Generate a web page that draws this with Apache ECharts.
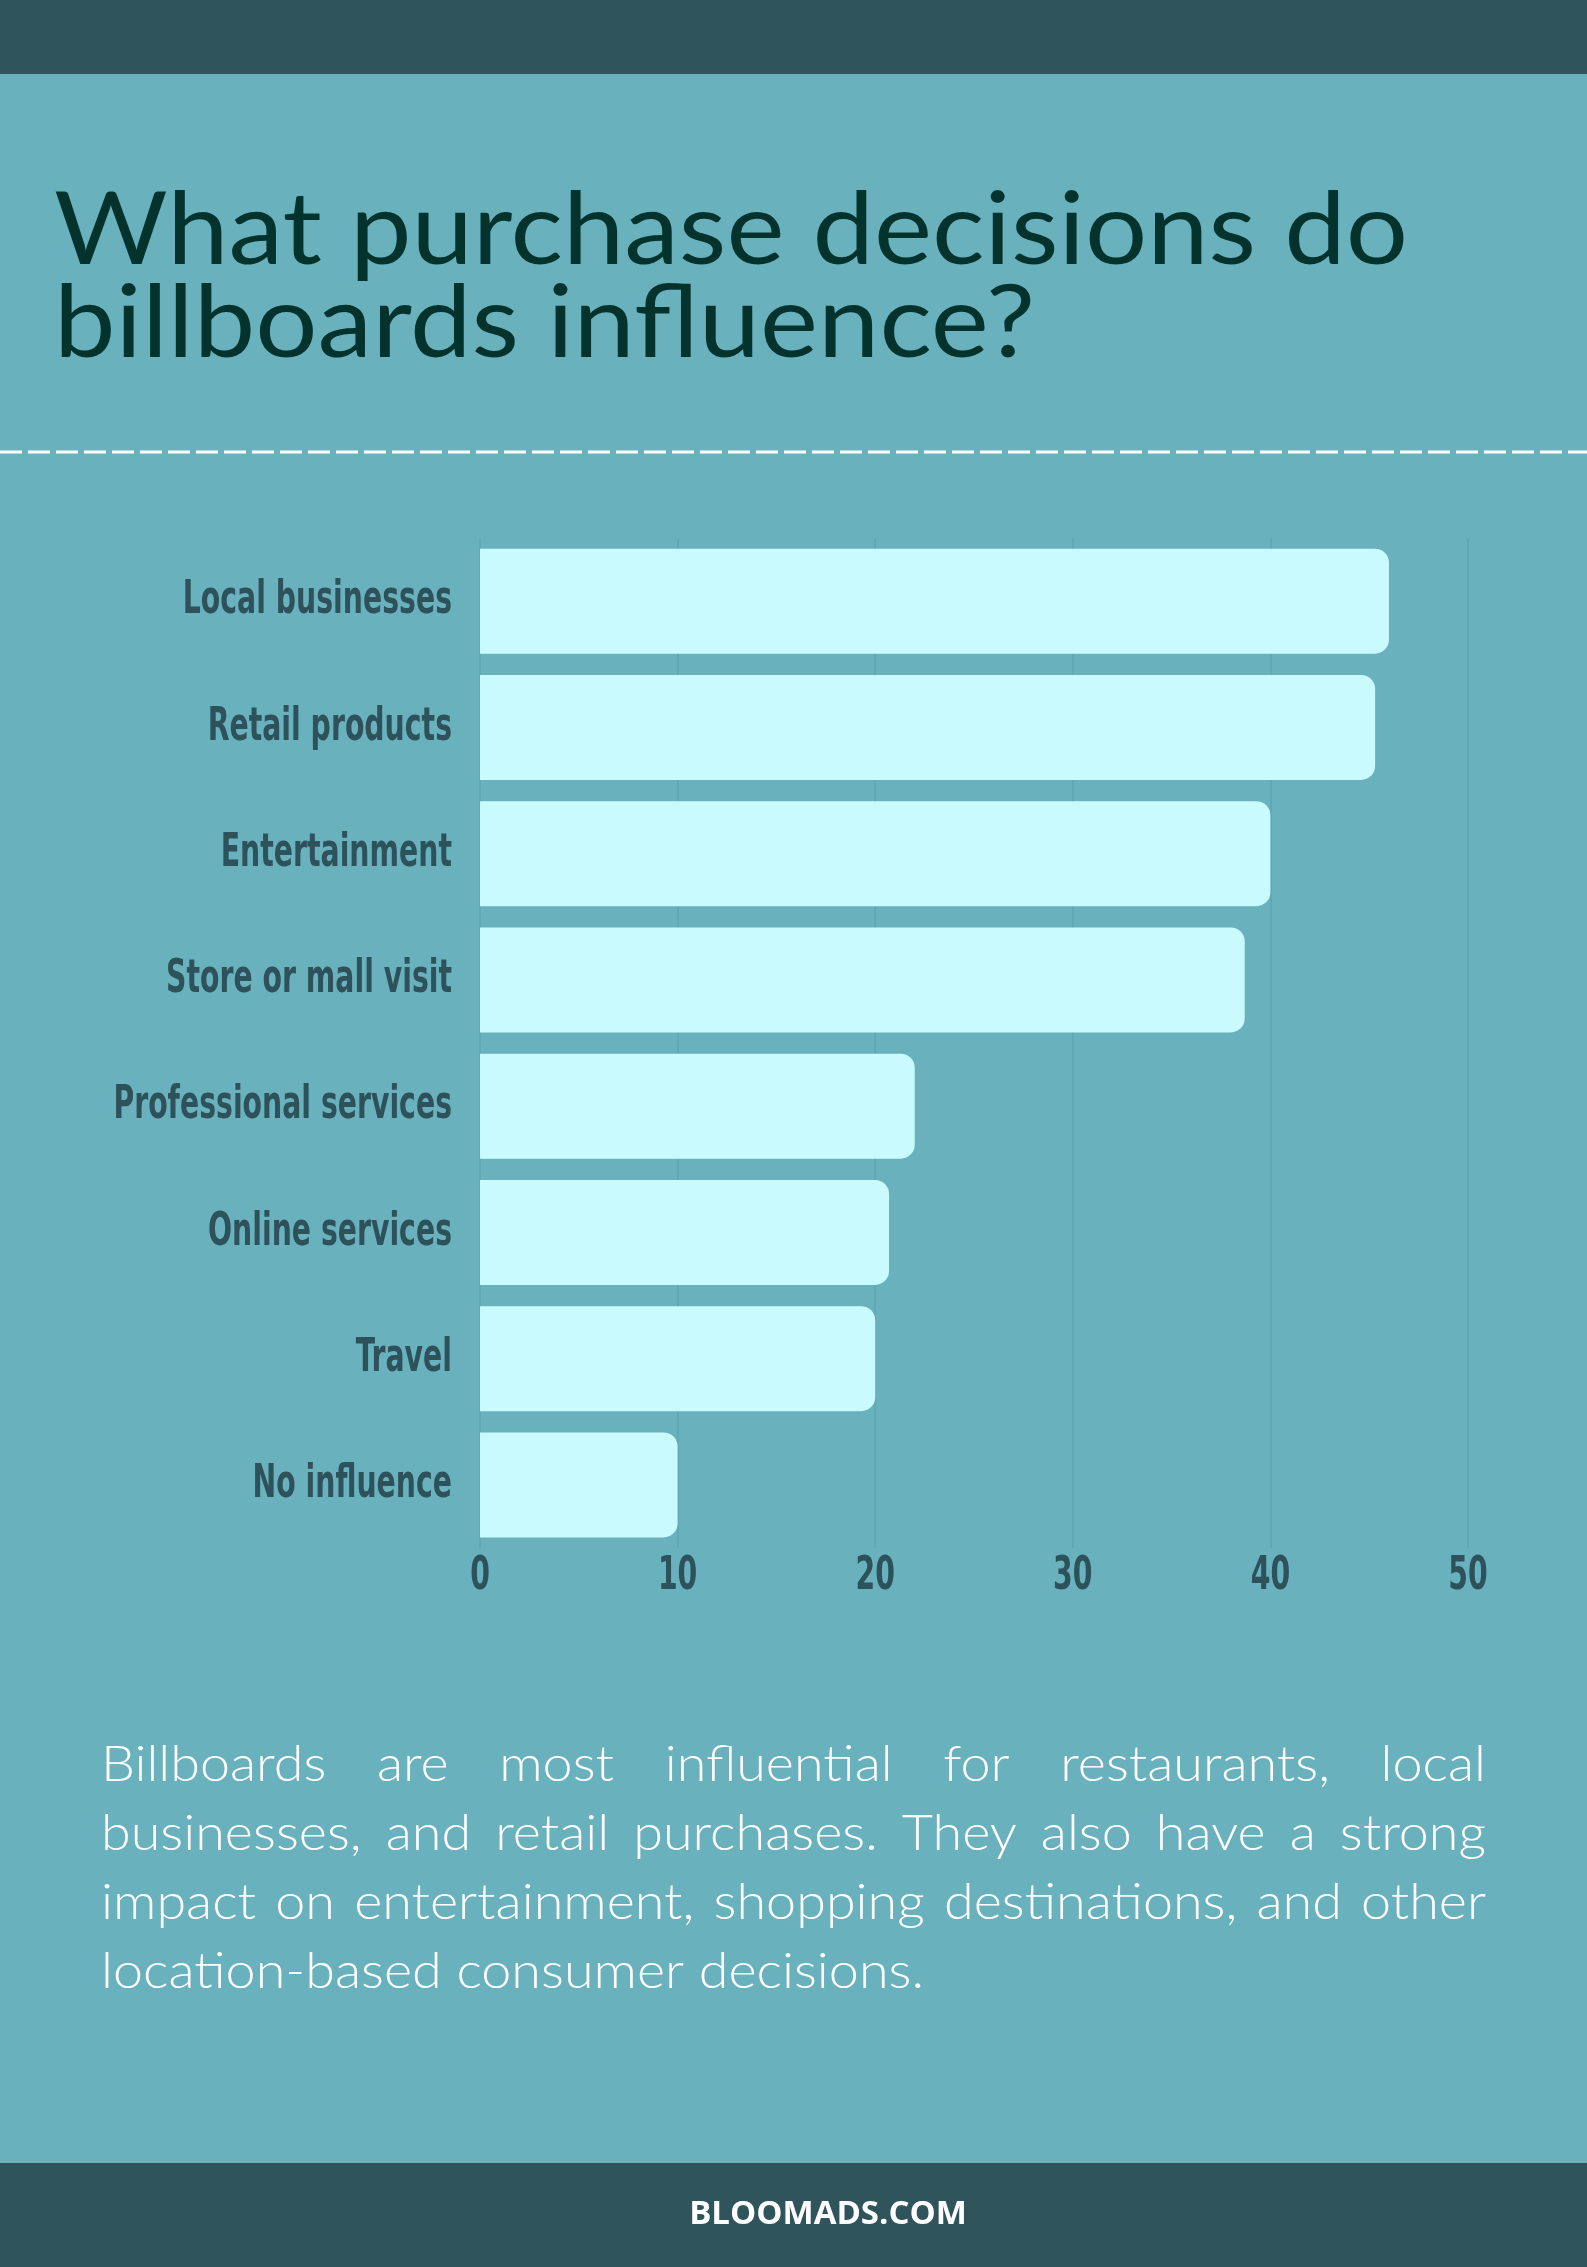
<!DOCTYPE html>
<html>
<head>
<meta charset="utf-8">
<script src="https://cdn.jsdelivr.net/npm/echarts@6/dist/echarts.min.js"></script>
<style>
html, body { margin: 0; padding: 0; background: #69b2bd; }
#chart { width: 1587px; height: 2267px; }
</style>
</head>
<body>
<div id="chart"></div>
<script>
// data
var categories = [
    'Local businesses',
    'Retail products',
    'Entertainment',
    'Store or mall visit',
    'Professional services',
    'Online services',
    'Travel',
    'No influence'
];
var values = [46, 45.3, 40, 38.7, 22, 20.7, 20, 10];
var axisMin = 0;
var axisMax = 50;
var axisStep = 10;

var titleLines = ['What purchase decisions do', 'billboards influence?'];
var bodyLines = [
    'Billboards are most influential for restaurants, local',
    'businesses, and retail purchases. They also have a strong',
    'impact on entertainment, shopping destinations, and other',
    'location-based consumer decisions.'
];
var footerText = 'BLOOMADS.COM';

var BG = '#69b2bd';
var DARK = '#2f545c';
var LABEL = '#2e525b';
var BAR = '#c9fbfe';
// no Anton here, so squeeze a condensed bold face horizontally
var labelFont = 'bold 47px "DejaVu Sans Condensed", "DejaVu Sans", sans-serif';
var labelSqueeze = 0.67;

var GRID = { left: 480, right: 119, top: 538, height: 1010 };

var measureCtx = document.createElement('canvas').getContext('2d');
function textWidth(t, font) {
    measureCtx.font = font;
    return measureCtx.measureText(t).width;
}

// word-by-word text so the paragraph can be justified like the original
function paragraph(lines, font, sx, left, right, firstY, lineGap) {
    var els = [];
    var space = textWidth(' ', font) * sx;
    lines.forEach(function (line, li) {
        var words = line.split(' ');
        var widths = words.map(function (w) { return textWidth(w, font) * sx; });
        var total = widths.reduce(function (a, b) { return a + b; }, 0);
        var last = li === lines.length - 1;
        var gap = last ? space : (right - left - total) / (words.length - 1);
        var x = left;
        words.forEach(function (w, i) {
            els.push({
                type: 'text',
                x: x,
                y: firstY + li * lineGap,
                scaleX: sx,
                style: { text: w, font: font, fill: '#ffffff', verticalAlign: 'middle' }
            });
            x += widths[i] + gap;
        });
    });
    return els;
}

var chart = echarts.init(document.getElementById('chart'));
chart.setOption({
    backgroundColor: BG,
    animation: false,
    grid: GRID,
    xAxis: {
        type: 'value',
        min: axisMin,
        max: axisMax,
        interval: axisStep,
        axisLine: { show: false },
        axisTick: { show: false },
        axisLabel: { show: false },
        splitLine: { lineStyle: { color: '#5da6b1', width: 1.5 } }
    },
    yAxis: {
        type: 'category',
        inverse: true,
        data: categories,
        axisLine: { show: false },
        axisTick: { show: false },
        axisLabel: { show: false },
        splitLine: { show: false }
    },
    series: [{
        type: 'bar',
        data: values,
        barWidth: 105,
        itemStyle: { color: BAR, borderRadius: [0, 14, 14, 0] }
    }]
});

var graphics = [
    { type: 'rect', shape: { x: 0, y: 0, width: 1587, height: 74 }, style: { fill: DARK } },
    { type: 'rect', shape: { x: 0, y: 2163, width: 1587, height: 104 }, style: { fill: DARK } },
    {
        type: 'line',
        shape: { x1: 0, y1: 452, x2: 1587, y2: 452 },
        style: { stroke: '#ffffff', lineWidth: 3, lineDash: [22, 6] }
    },
    {
        type: 'text', x: 828, y: 2215,
        style: {
            text: footerText, font: 'bold 33px "Open Sans", sans-serif',
            fill: '#ffffff', align: 'center', verticalAlign: 'middle'
        }
    }
];

var titleFont = '100px Lato, "Open Sans", sans-serif';
var titleSx = 1354 / textWidth(titleLines[0], titleFont);
titleLines.forEach(function (t, i) {
    graphics.push({
        type: 'text', x: 54, y: 232 + i * 93, scaleX: titleSx,
        style: { text: t, font: titleFont, fill: '#04332e', verticalAlign: 'middle' }
    });
});

graphics = graphics.concat(
    paragraph(bodyLines, '300 49px Lato, "Open Sans", sans-serif', 1.1, 101, 1486, 1765, 69)
);

// axis labels placed through the chart's own scales
var zeroX = chart.convertToPixel({ xAxisIndex: 0 }, axisMin);
categories.forEach(function (c) {
    graphics.push({
        type: 'text',
        x: zeroX - 28,
        y: chart.convertToPixel({ yAxisIndex: 0 }, c),
        scaleX: labelSqueeze,
        style: { text: c, font: labelFont, fill: LABEL, align: 'right', verticalAlign: 'middle' }
    });
});
for (var v = axisMin; v <= axisMax; v += axisStep) {
    graphics.push({
        type: 'text',
        x: chart.convertToPixel({ xAxisIndex: 0 }, v),
        y: GRID.top + GRID.height + 29,
        scaleX: labelSqueeze,
        style: { text: String(v), font: labelFont, fill: LABEL, align: 'center', verticalAlign: 'middle' }
    });
}

chart.setOption({ graphic: graphics });
</script>
</body>
</html>
